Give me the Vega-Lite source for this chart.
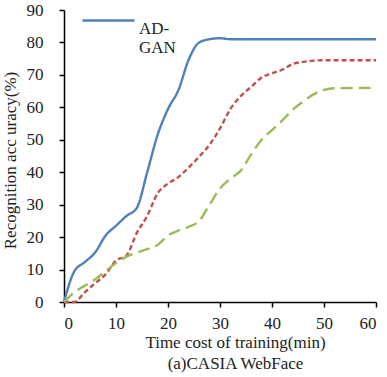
{
  "$schema": "https://vega.github.io/schema/vega-lite/v6.json",
  "width": 312,
  "height": 292,
  "autosize": "none",
  "padding": {"left": 64, "top": 10, "right": 11, "bottom": 75},
  "background": "white",
  "config": {
    "view": {"stroke": null},
    "font": "Liberation Serif",
    "axis": {"grid": false, "domainColor": "black", "tickColor": "black", "domainWidth": 1.5, "tickWidth": 1.5, "tickSize": 5, "labelFont": "Liberation Serif", "titleFont": "Liberation Serif", "labelFontSize": 17, "titleFontSize": 17, "labelColor": "#222", "titleColor": "#222", "titleFontWeight": "normal"}
  },
  "data": {
    "values": [
      {"t": 0, "acc": 0, "s": "AD-GAN"},
      {"t": 2, "acc": 9.5, "s": "AD-GAN"},
      {"t": 4, "acc": 12.3, "s": "AD-GAN"},
      {"t": 6, "acc": 15.3, "s": "AD-GAN"},
      {"t": 8, "acc": 20.5, "s": "AD-GAN"},
      {"t": 10, "acc": 23.5, "s": "AD-GAN"},
      {"t": 12, "acc": 26.5, "s": "AD-GAN"},
      {"t": 14, "acc": 29, "s": "AD-GAN"},
      {"t": 16, "acc": 40, "s": "AD-GAN"},
      {"t": 18, "acc": 51.5, "s": "AD-GAN"},
      {"t": 20, "acc": 59.5, "s": "AD-GAN"},
      {"t": 22, "acc": 65.3, "s": "AD-GAN"},
      {"t": 24, "acc": 74.8, "s": "AD-GAN"},
      {"t": 26, "acc": 80, "s": "AD-GAN"},
      {"t": 28, "acc": 81, "s": "AD-GAN"},
      {"t": 30, "acc": 81.3, "s": "AD-GAN"},
      {"t": 32, "acc": 81, "s": "AD-GAN"},
      {"t": 40, "acc": 81, "s": "AD-GAN"},
      {"t": 50, "acc": 81, "s": "AD-GAN"},
      {"t": 60, "acc": 81, "s": "AD-GAN"},
      {"t": 0, "acc": 0, "s": "Baseline 1"},
      {"t": 2, "acc": 0, "s": "Baseline 1"},
      {"t": 4, "acc": 3, "s": "Baseline 1"},
      {"t": 6, "acc": 5.8, "s": "Baseline 1"},
      {"t": 8, "acc": 8.5, "s": "Baseline 1"},
      {"t": 10, "acc": 12.8, "s": "Baseline 1"},
      {"t": 12, "acc": 14.3, "s": "Baseline 1"},
      {"t": 14, "acc": 21.3, "s": "Baseline 1"},
      {"t": 16, "acc": 26.5, "s": "Baseline 1"},
      {"t": 18, "acc": 33.5, "s": "Baseline 1"},
      {"t": 20, "acc": 36.5, "s": "Baseline 1"},
      {"t": 22, "acc": 38.5, "s": "Baseline 1"},
      {"t": 24, "acc": 41.5, "s": "Baseline 1"},
      {"t": 26, "acc": 44.8, "s": "Baseline 1"},
      {"t": 28, "acc": 48.5, "s": "Baseline 1"},
      {"t": 30, "acc": 53.5, "s": "Baseline 1"},
      {"t": 32, "acc": 59.5, "s": "Baseline 1"},
      {"t": 34, "acc": 63.5, "s": "Baseline 1"},
      {"t": 36, "acc": 66.3, "s": "Baseline 1"},
      {"t": 38, "acc": 69.2, "s": "Baseline 1"},
      {"t": 40, "acc": 70.5, "s": "Baseline 1"},
      {"t": 42, "acc": 71.6, "s": "Baseline 1"},
      {"t": 44, "acc": 73.4, "s": "Baseline 1"},
      {"t": 46, "acc": 74, "s": "Baseline 1"},
      {"t": 48, "acc": 74.4, "s": "Baseline 1"},
      {"t": 50, "acc": 74.5, "s": "Baseline 1"},
      {"t": 60, "acc": 74.5, "s": "Baseline 1"},
      {"t": 0, "acc": 0, "s": "Baseline 2"},
      {"t": 2, "acc": 3, "s": "Baseline 2"},
      {"t": 4, "acc": 5, "s": "Baseline 2"},
      {"t": 6, "acc": 7, "s": "Baseline 2"},
      {"t": 8, "acc": 9.5, "s": "Baseline 2"},
      {"t": 10, "acc": 12, "s": "Baseline 2"},
      {"t": 12, "acc": 14, "s": "Baseline 2"},
      {"t": 14, "acc": 15.2, "s": "Baseline 2"},
      {"t": 16, "acc": 16.3, "s": "Baseline 2"},
      {"t": 18, "acc": 17.6, "s": "Baseline 2"},
      {"t": 20, "acc": 20.5, "s": "Baseline 2"},
      {"t": 22, "acc": 22, "s": "Baseline 2"},
      {"t": 24, "acc": 23.2, "s": "Baseline 2"},
      {"t": 26, "acc": 25, "s": "Baseline 2"},
      {"t": 28, "acc": 30, "s": "Baseline 2"},
      {"t": 30, "acc": 35, "s": "Baseline 2"},
      {"t": 32, "acc": 38, "s": "Baseline 2"},
      {"t": 34, "acc": 40.5, "s": "Baseline 2"},
      {"t": 36, "acc": 45.5, "s": "Baseline 2"},
      {"t": 38, "acc": 50, "s": "Baseline 2"},
      {"t": 40, "acc": 53, "s": "Baseline 2"},
      {"t": 42, "acc": 56, "s": "Baseline 2"},
      {"t": 44, "acc": 59.3, "s": "Baseline 2"},
      {"t": 46, "acc": 61.8, "s": "Baseline 2"},
      {"t": 48, "acc": 64, "s": "Baseline 2"},
      {"t": 50, "acc": 65.4, "s": "Baseline 2"},
      {"t": 52, "acc": 65.9, "s": "Baseline 2"},
      {"t": 60, "acc": 66, "s": "Baseline 2"}
    ]
  },
  "mark": {"type": "line", "interpolate": "monotone", "strokeWidth": 2.4},
  "encoding": {
    "x": {"field": "t", "type": "quantitative", "scale": {"domain": [0, 60], "nice": false},
      "axis": {"values": [0, 10, 20, 30, 40, 50, 60], "labelPadding": 8, "title": ["Time cost of training(min)", "(a)CASIA WebFace"], "titleX": 171, "titleY": 32, "titleAlign": "center", "titleBaseline": "top", "titleLineHeight": 21}},
    "y": {"field": "acc", "type": "quantitative", "scale": {"domain": [0, 90], "nice": false},
      "axis": {"values": [0, 10, 20, 30, 40, 50, 60, 70, 80, 90], "labelPadding": 16, "title": "Recognition acc uracy(%)", "titleX": -45, "titleY": 150}},
    "color": {"field": "s", "type": "nominal",
      "scale": {"domain": ["AD-GAN", "Baseline 1", "Baseline 2"], "range": ["#4F81BD", "#C0504D", "#9BBB59"]},
      "legend": {"values": ["AD-GAN"], "title": null, "orient": "none", "legendX": 17, "legendY": -17, "padding": 0,
        "symbolType": "stroke", "symbolSize": 2704, "symbolStrokeWidth": 2.4, "labelFontSize": 17, "labelFont": "Liberation Serif", "labelColor": "#222", "labelOffset": 3, "labelBaseline": "top", "labelLimit": 0,
        "labelExpr": "datum.label == 'AD-GAN' ? ['AD-', 'GAN'] : datum.label"}},
    "strokeDash": {"field": "s", "type": "nominal",
      "scale": {"domain": ["AD-GAN", "Baseline 1", "Baseline 2"], "range": [[1, 0], [5, 3], [12, 6]]},
      "legend": null}
  }
}
